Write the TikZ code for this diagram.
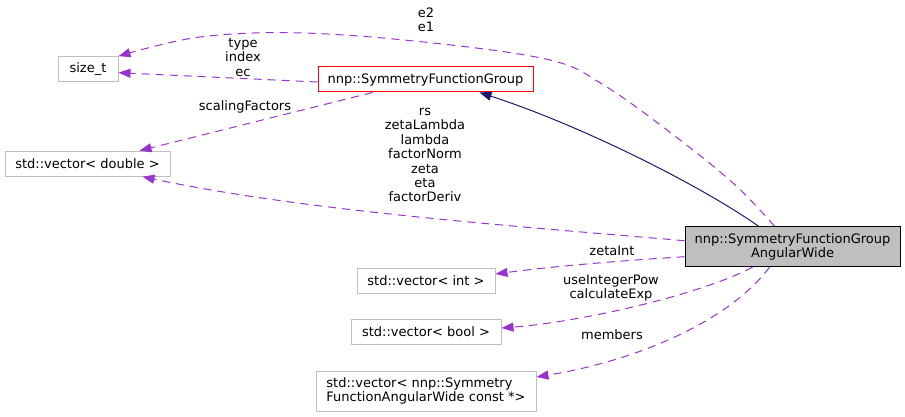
\documentclass[tikz,border=0pt]{standalone}
\usepackage{fontspec}
\setmainfont{DejaVu Sans}
\usetikzlibrary{arrows.meta,calc}

\definecolor{memb}{HTML}{9A32CD}
\definecolor{inh}{HTML}{191970}
\definecolor{boxgray}{HTML}{BFBFBF}

\begin{document}
\begin{tikzpicture}[x=1pt,y=-1pt,
  cls/.style={draw=boxgray,line width=1pt,rectangle,inner sep=0pt,minimum height=25pt,align=center,font=\fontsize{13}{13.5}\selectfont},
  use/.style={-{Triangle[length=12pt,width=9pt]},memb,dash pattern=on 8pt off 6pt,line width=1pt},
  isa/.style={-{Triangle[length=12pt,width=9pt]},inh,line width=1pt},
  lab/.style={align=center,inner sep=0pt,font=\fontsize{13}{14.4}\selectfont}]
  \useasboundingbox (0,0) rectangle (905,417);
  % classes
  \node[cls,minimum width=60pt] (sizet) at (88,69.2) {size\_t};
  \node[cls,draw=red,minimum width=215pt] (grp) at (425.5,79.5) {nnp::SymmetryFunctionGroup};
  \node[cls,minimum width=165pt] (vdbl) at (87.5,163.7) {std::vector< double >};
  \node[cls,draw=black,fill=boxgray,minimum width=215pt,minimum height=40pt] (wide) at (792.5,246.7) {nnp::SymmetryFunctionGroup\\AngularWide};
  \node[cls,minimum width=138pt] (vint) at (426,280.5) {std::vector< int >};
  \node[cls,minimum width=150pt] (vbool) at (426,331.5) {std::vector< bool >};
  \node[cls,minimum width=220pt,minimum height=40pt,align=left] (vsf) at (426,391) {std::vector< nnp::Symmetry\\FunctionAngularWide const *>};
  % inheritance
  \draw[isa] ($(wide.north west)+(74,0)$) .. controls (700,185) and (580,125) .. ($(grp.south west)+(162,0)$);
  % members
  \draw[use] plot[smooth,tension=0.6] coordinates {($(wide.north west)+(90,0)$) (733,183) (667,130) (602,84) (550,60) (433,43) (303,33) (200,37) (sizet.north east)};
  \draw[use] ($(grp.west)+(0,2.5)$) -- ($(sizet.east)+(0,3.5)$);
  \draw[use] ($(grp.south west)+(55,0)$) -- ($(vdbl.north west)+(135,0)$);
  \draw[use] ($(wide.west)+(0,-6)$) .. controls (500,225) and (300,210) .. ($(vdbl.south west)+(138,0)$);
  \draw[use] ($(wide.west)+(0,10)$) .. controls (600,262) and (540,268) .. ($(vint.east)+(0,-6.5)$);
  \draw[use] ($(wide.south west)+(68,0)$) .. controls (700,295) and (580,322) .. ($(vbool.east)+(0,-3.5)$);
  \draw[use] ($(wide.south west)+(85,0)$) .. controls (730,320) and (640,360) .. ($(vsf.east)+(0,-14)$);
  % labels
  \node[lab] (le) at (426,19.5) {e2\\e1};
  \node[lab] (lt) at (243,57.5) {type\\index\\ec};
  \node[lab] (ls) at (245,106.7) {scalingFactors};
  \node[lab] (lr) at (425,155.2) {rs\\zetaLambda\\lambda\\factorNorm\\zeta\\eta\\factorDeriv};
  \node[lab] (lz) at (612,251) {zetaInt};
  \node[lab] (lu) at (611,288.2) {useIntegerPow\\calculateExp};
  \node[lab] (lm) at (612,334.3) {members};
\end{tikzpicture}
\end{document}
